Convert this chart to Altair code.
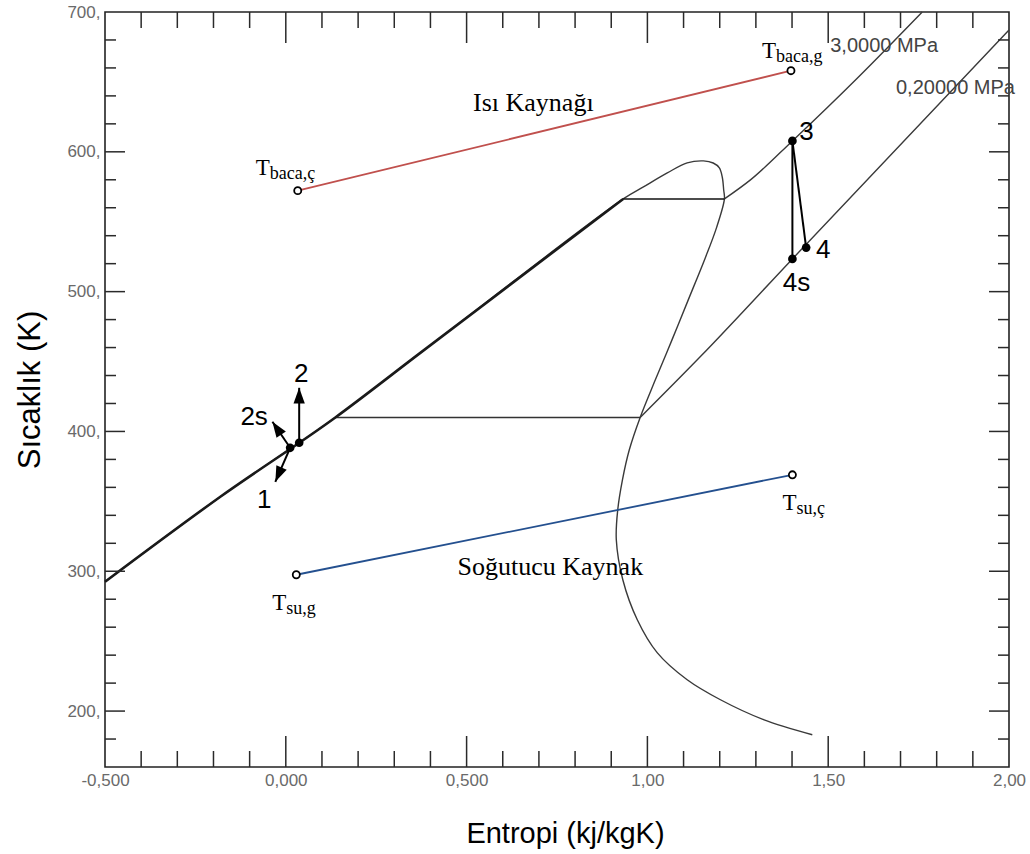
import json
import math
import altair as alt
import pandas as pd

SANS = "Liberation Sans"
SERIF = "Liberation Serif"

# ---------------- data (s in kJ/kgK, T in K) ----------------
# saturation dome: saturated liquid -> critical region -> saturated vapour
sat_s = [-0.500, -0.181, 0.137, 0.372, 0.933, 0.989, 1.055, 1.110, 1.155, 1.182,
         1.199, 1.207, 1.211, 1.213, 1.191, 1.160, 1.113, 1.068, 1.022, 0.980,
         0.950, 0.931, 0.918, 0.914, 0.932, 0.972, 1.027, 1.110, 1.202, 1.321, 1.456]
sat_T = [292.5, 353.3, 410.0, 456.2, 566.3, 574.9, 584.9, 592.1, 593.5, 592.0,
         588.5, 582.0, 572.7, 566.3, 545.6, 524.1, 494.1, 465.5, 436.9, 410.0,
         386.9, 365.4, 344.0, 322.5, 293.9, 265.3, 241.8, 222.4, 208.1, 193.9, 183.1]

# compressed / saturated liquid (3 MPa isobar overlapping the liquid line)
liq_s = [-0.500, -0.181, 0.137, 0.372, 0.933]
liq_T = [292.5, 353.3, 410.0, 456.2, 566.3]

# 3.0 MPa isobar
p30_evap_s = [0.933, 1.213]
p30_evap_T = [566.3, 566.3]
p30_sup_s = [1.213, 1.285, 1.401, 1.581, 1.760]
p30_sup_T = [566.3, 579.9, 607.8, 652.8, 700.0]

# 0.2 MPa isobar
p02_evap_s = [0.137, 0.980]
p02_evap_T = [410.0, 410.0]
p02_sup_s = [0.980, 1.146, 1.401, 2.000]
p02_sup_T = [410.0, 453.4, 523.4, 687.1]

# heat source (flue gas) and cooling water streams
hot_s = [0.033, 1.397]
hot_T = [572.2, 658.0]
hot_sub = ["baca,ç", "baca,g"]
cold_s = [0.029, 1.401]
cold_T = [297.5, 369.0]
cold_sub = ["su,g", "su,ç"]

# cycle states
state_names = ["1", "2", "3", "4s", "4"]
state_s = [0.012, 0.037, 1.401, 1.401, 1.439]
state_T = [388.3, 391.9, 607.8, 523.4, 531.5]

# annotation arrows (start state, tip)
arrow_from = ["2", "1", "1"]
arrow_tip_s = [0.037, -0.037, -0.029]
arrow_tip_T = [431.2, 406.9, 364.0]

# axes
x_label_values = [-0.5, 0.0, 0.5, 1.0, 1.5, 2.0]
x_label_texts = ["-0,500", "0,000", "0,500", "1,00", "1,50", "2,00"]
y_label_values = [200, 300, 400, 500, 600, 700]
x_major_ticks = [0.0, 0.5, 1.0, 1.5]
x_minor_ticks = [-0.4, -0.3, -0.2, -0.1, 0.1, 0.2, 0.3, 0.4, 0.6, 0.7, 0.8, 0.9,
                 1.1, 1.2, 1.3, 1.4, 1.6, 1.7, 1.8, 1.9]
y_major_ticks = [200, 300, 400, 500, 600]
y_minor_ticks = [180, 220, 240, 260, 280, 320, 340, 360, 380, 420, 440, 460, 480,
                 520, 540, 560, 580, 620, 640, 660, 680]

# ---------------- layout ----------------
W, H = 904, 755
S_MIN, S_MAX = -0.5, 2.0
T_MIN, T_MAX = 160, 700
KX = W / (S_MAX - S_MIN)
KY = H / (T_MAX - T_MIN)

xs = alt.Scale(domain=[S_MIN, S_MAX], nice=False, zero=False)
ys = alt.Scale(domain=[T_MIN, T_MAX], nice=False, zero=False)

x_axis = alt.Axis(
    title="Entropi (kj/kgK)", values=x_label_values,
    labelExpr=json.dumps(x_label_texts) + "[round(datum.value*2+1)]",
    ticks=False, tickSize=0, domain=False, grid=False, labelFlush=False,
    labelOverlap=False, labelFont=SANS, labelFontSize=17, labelColor="#6a6a6a",
    labelPadding=5, labelBaseline="top",
    titleFont=SANS, titleFontSize=29, titleFontWeight="normal", titleColor="black",
    titleX=W / 2 + 8, titleY=66, titleBaseline="middle", titleAlign="center",
)
y_axis = alt.Axis(
    title="Sıcaklık (K)", values=y_label_values, labelExpr="datum.value + ','",
    ticks=False, tickSize=0, domain=False, grid=False, labelFlush=False,
    labelOverlap=False, labelFont=SANS, labelFontSize=17, labelColor="#6a6a6a",
    labelPadding=5,
    titleFont=SANS, titleFontSize=31, titleFontWeight="normal", titleColor="black",
    titleX=-75, titleY=H / 2, titleAngle=270, titleAlign="center",
    titleBaseline="middle",
)
X = alt.X("s:Q", scale=xs, axis=x_axis)
Y = alt.Y("T:Q", scale=ys, axis=y_axis)


def df_line(s, T):
    return pd.DataFrame({"s": s, "T": T, "o": list(range(len(s)))})


def curve(s, T, color, width, interp="linear"):
    return alt.Chart(df_line(s, T)).mark_line(
        color=color, strokeWidth=width, interpolate=interp
    ).encode(x=X, y=Y, order="o:Q")


layers = []
THIN = "#3a3a3a"
layers.append(curve(sat_s, sat_T, THIN, 1.4, "catmull-rom"))
layers.append(curve(p30_sup_s, p30_sup_T, THIN, 1.4, "monotone"))
layers.append(curve(p02_sup_s, p02_sup_T, THIN, 1.4, "monotone"))
layers.append(curve(p30_evap_s, p30_evap_T, "#111", 1.6))
layers.append(curve(p02_evap_s, p02_evap_T, "#333", 1.6))
layers.append(curve(liq_s, liq_T, "#1a1a1a", 2.6, "monotone"))
layers.append(curve(hot_s, hot_T, "#c0504d", 1.8))
layers.append(curve(cold_s, cold_T, "#24508f", 1.8))

# expansion process lines 3 -> 4s and 3 -> 4
idx = {n: i for i, n in enumerate(state_names)}
proc = pd.DataFrame({
    "s": [state_s[idx["3"]], state_s[idx["3"]]],
    "T": [state_T[idx["3"]], state_T[idx["3"]]],
    "s2": [state_s[idx["4s"]], state_s[idx["4"]]],
    "T2": [state_T[idx["4s"]], state_T[idx["4"]]],
})
layers.append(alt.Chart(proc).mark_rule(color="black", strokeWidth=2).encode(
    x=X, y=Y, x2="s2:Q", y2="T2:Q"))

# arrows
arr = pd.DataFrame({
    "s": [state_s[idx[n]] for n in arrow_from],
    "T": [state_T[idx[n]] for n in arrow_from],
    "s2": arrow_tip_s,
    "T2": arrow_tip_T,
})
arr["ang"] = [
    math.degrees(math.atan2((a - b) * KX, (c - d) * KY)) % 360
    for a, b, c, d in zip(arr["s2"], arr["s"], arr["T2"], arr["T"])
]
layers.append(alt.Chart(arr).mark_rule(color="black", strokeWidth=2).encode(
    x=X, y=Y, x2="s2:Q", y2="T2:Q"))
head = arr[["s2", "T2", "ang"]].rename(columns={"s2": "s", "T2": "T"})
layers.append(alt.Chart(head).mark_point(
    shape="M0,0L0.8,2.2L-0.8,2.2Z", filled=True, color="black", size=200, opacity=1
).encode(x=X, y=Y, angle=alt.Angle("ang:Q", scale=None)))

# open circles at stream ends
ends = pd.DataFrame({"s": hot_s + cold_s, "T": hot_T + cold_T})
layers.append(alt.Chart(ends).mark_point(
    shape="circle", filled=True, fill="white", stroke="black", strokeWidth=1.8,
    size=50, opacity=1).encode(x=X, y=Y))

# state points
states = pd.DataFrame({"s": state_s, "T": state_T, "name": state_names})
layers.append(alt.Chart(states).mark_circle(color="black", size=75, opacity=1)
              .encode(x=X, y=Y))

# state labels
state_label_style = {"1": (-26, 52, "1"), "2": (2, -69, "2"), "3": (14, -9, "3"),
                     "4s": (4, 24, "4s"), "4": (17, 2, "4")}
extra = [("1", -36, -31, "2s")]
label_specs = [(n, dx, dy, t) for n, (dx, dy, t) in state_label_style.items()] + extra
for n, dx, dy, t in label_specs:
    d = pd.DataFrame({"s": [state_s[idx[n]]], "T": [state_T[idx[n]]], "t": [t]})
    layers.append(alt.Chart(d).mark_text(
        font=SANS, fontSize=26, color="black", align="center", baseline="middle",
        dx=dx, dy=dy).encode(x=X, y=Y, text="t:N"))

# T-subscript labels of stream ends
t_offsets = [(-42, -16), (-29, -13), (-24, 35), (-10, 35)]
all_s = hot_s + cold_s
all_T = hot_T + cold_T
all_sub = hot_sub + cold_sub
for s, T, sub, (dx, dy) in zip(all_s, all_T, all_sub, t_offsets):
    d = pd.DataFrame({"s": [s], "T": [T], "t": ["T"], "sub": [sub]})
    layers.append(alt.Chart(d).mark_text(
        font=SERIF, fontSize=23, color="black", align="left", baseline="alphabetic",
        dx=dx, dy=dy).encode(x=X, y=Y, text="t:N"))
    layers.append(alt.Chart(d).mark_text(
        font=SERIF, fontSize=18, color="black", align="left", baseline="alphabetic",
        dx=dx + 14, dy=dy + 4).encode(x=X, y=Y, text="sub:N"))

# stream names
mid_hot = pd.DataFrame({"s": [sum(hot_s) / 2], "T": [sum(hot_T) / 2], "t": ["Isı Kaynağı"]})
mid_cold = pd.DataFrame({"s": [sum(cold_s) / 2], "T": [sum(cold_T) / 2], "t": ["Soğutucu Kaynak"]})
layers.append(alt.Chart(mid_hot).mark_text(
    font=SERIF, fontSize=26, color="black", align="center", baseline="middle",
    dx=-11, dy=-28).encode(x=X, y=Y, text="t:N"))
layers.append(alt.Chart(mid_cold).mark_text(
    font=SERIF, fontSize=26, color="black", align="center", baseline="middle",
    dx=6, dy=42).encode(x=X, y=Y, text="t:N"))

# isobar labels
lab30 = pd.DataFrame({"s": [p30_sup_s[-1]], "T": [p30_sup_T[-1]], "t": ["3,0000 MPa"]})
lab02 = pd.DataFrame({"s": [p02_sup_s[-1]], "T": [p02_sup_T[-1]], "t": ["0,20000 MPa"]})
layers.append(alt.Chart(lab30).mark_text(
    font=SANS, fontSize=20, color="#444", align="left", baseline="middle",
    dx=-92, dy=34).encode(x=X, y=Y, text="t:N"))
layers.append(alt.Chart(lab02).mark_text(
    font=SANS, fontSize=20, color="#444", align="left", baseline="middle",
    dx=-113, dy=58).encode(x=X, y=Y, text="t:N"))

# inward tick marks on all four sides
TICK = "#2a2a2a"
def xticks(vals, length):
    d = pd.DataFrame({"s": vals})
    bot = alt.Chart(d).mark_rule(color=TICK, strokeWidth=1.5).encode(
        x=X, y=alt.value(H), y2=alt.value(H - length))
    top = alt.Chart(d).mark_rule(color=TICK, strokeWidth=1.5).encode(
        x=X, y=alt.value(0), y2=alt.value(length))
    return [bot, top]

def yticks(vals, length):
    d = pd.DataFrame({"T": vals})
    left = alt.Chart(d).mark_rule(color=TICK, strokeWidth=1.5).encode(
        y=Y, x=alt.value(0), x2=alt.value(length))
    right = alt.Chart(d).mark_rule(color=TICK, strokeWidth=1.5).encode(
        y=Y, x=alt.value(W), x2=alt.value(W - length))
    return [left, right]

layers += xticks(x_major_ticks, 31) + xticks(x_minor_ticks, 16)
layers += yticks(y_major_ticks, 20) + yticks(y_minor_ticks, 11)

chart = alt.layer(*layers).properties(
    width=W, height=H,
    autosize=alt.AutoSizeParams(type="none"),
    padding={"left": 105, "top": 12, "right": 21, "bottom": 87},
    background="white",
).configure_view(stroke="#222", strokeWidth=1.6)

chart.save("out.html", embed_options={"renderer": "svg", "actions": False})
